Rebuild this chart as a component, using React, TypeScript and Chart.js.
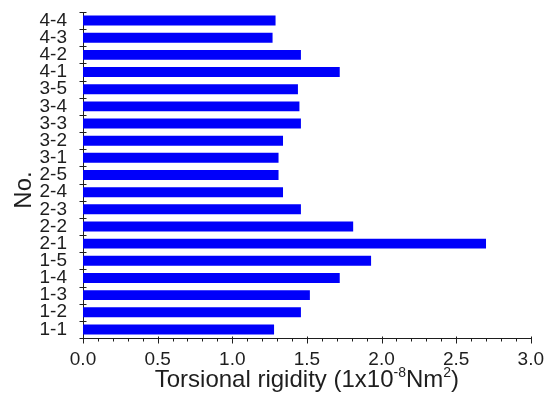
import { useEffect, useRef } from 'react';
import { Chart, registerables } from 'chart.js';

Chart.register(...registerables);

const categories = ['1-1', '1-2', '1-3', '1-4', '1-5', '2-1', '2-2', '2-3', '2-4', '2-5', '3-1', '3-2', '3-3', '3-4', '3-5', '4-1', '4-2', '4-3', '4-4'];
const rigidity = [1.28, 1.46, 1.52, 1.72, 1.93, 2.70, 1.81, 1.46, 1.34, 1.31, 1.31, 1.34, 1.46, 1.45, 1.44, 1.72, 1.46, 1.27, 1.29];
const xMin = 0;
const xMax = 3;
const xMajorStep = 0.5;
const xMinorStep = 0.1;
const yTitle = 'No.';
const xTitleParts: { text: string; sup?: boolean }[] = [
  { text: 'Torsional rigidity (1x10' },
  { text: '-8', sup: true },
  { text: 'Nm' },
  { text: '2', sup: true },
  { text: ')' },
];

const FONT = '"Liberation Sans", Arimo, Arial, sans-serif';
const INK = '#1e1e1e';

const decor = {
  id: 'decor',
  afterDraw(chart: any) {
    const { ctx, chartArea, scales } = chart;
    const x = scales.x;
    const y = scales.y;
    ctx.save();
    ctx.strokeStyle = INK;
    ctx.lineWidth = 1;
    const n = categories.length;
    const ax = Math.round(chartArea.left) + 0.5;
    for (let i = 0; i <= n; i++) {
      const py = Math.round(y.getPixelForValue(i - 0.5)) + 0.5;
      ctx.beginPath();
      ctx.moveTo(ax - 4, py);
      ctx.lineTo(ax + 3, py);
      ctx.stroke();
    }
    const by = Math.round(chartArea.bottom) + 0.5;
    const steps = Math.round((xMax - xMin) / xMinorStep);
    const per = Math.round(xMajorStep / xMinorStep);
    for (let k = 0; k <= steps; k++) {
      const v = xMin + k * xMinorStep;
      const px = Math.round(x.getPixelForValue(v)) + 0.5;
      const major = k % per === 0;
      ctx.beginPath();
      ctx.moveTo(px, by - (major ? 2 : 0));
      ctx.lineTo(px, by + (major ? 5 : 3));
      ctx.stroke();
    }
    ctx.fillStyle = INK;
    ctx.textBaseline = 'alphabetic';
    ctx.textAlign = 'left';
    const big = 24;
    const small = 14;
    let total = 0;
    for (const p of xTitleParts) {
      ctx.font = `${p.sup ? small : big}px ${FONT}`;
      total += ctx.measureText(p.text).width;
    }
    let cx = (chartArea.left + chartArea.right) / 2 - total / 2;
    const baseY = 387;
    for (const p of xTitleParts) {
      ctx.font = `${p.sup ? small : big}px ${FONT}`;
      ctx.fillText(p.text, cx, p.sup ? baseY - 10 : baseY);
      cx += ctx.measureText(p.text).width;
    }
    ctx.save();
    ctx.translate(31, 190);
    ctx.rotate(-Math.PI / 2);
    ctx.font = `24px ${FONT}`;
    ctx.textAlign = 'center';
    ctx.fillText(yTitle, 0, 0);
    ctx.restore();
    ctx.restore();
  },
};

export default function App() {
  const ref = useRef<HTMLCanvasElement>(null);
  useEffect(() => {
    document.body.style.margin = '0';
    const chart = new Chart(ref.current as HTMLCanvasElement, {
      type: 'bar',
      data: {
        labels: categories,
        datasets: [
          {
            data: rigidity,
            backgroundColor: 'rgb(0,0,250)',
            borderWidth: 0,
            barPercentage: 0.58,
            categoryPercentage: 1,
          },
        ],
      },
      options: {
        indexAxis: 'y',
        animation: false,
        responsive: false,
        layout: { padding: { top: 12, right: 9, left: 0, bottom: 0 } },
        plugins: { legend: { display: false }, tooltip: { enabled: false } },
        scales: {
          x: {
            type: 'linear',
            min: xMin,
            max: xMax,
            grid: { display: false },
            border: { display: true, color: INK, width: 1 },
            ticks: {
              stepSize: xMajorStep,
              color: INK,
              padding: 2,
              font: { family: FONT, size: 19 },
              callback: (v: any) => Number(v).toFixed(1),
            },
            afterFit: (s: any) => {
              s.height = 62;
            },
          },
          y: {
            type: 'category',
            reverse: true,
            offset: true,
            grid: { display: false, offset: true },
            border: { display: true, color: INK, width: 1 },
            ticks: {
              color: INK,
              padding: 8,
              autoSkip: false,
              font: { family: FONT, size: 19 },
            },
            afterFit: (s: any) => {
              s.width = 83;
              s.paddingTop = 0;
              s.paddingBottom = 0;
            },
          },
        },
      },
      plugins: [decor],
    });
    return () => chart.destroy();
  }, []);
  return <canvas ref={ref} width={546} height={400} />;
}
